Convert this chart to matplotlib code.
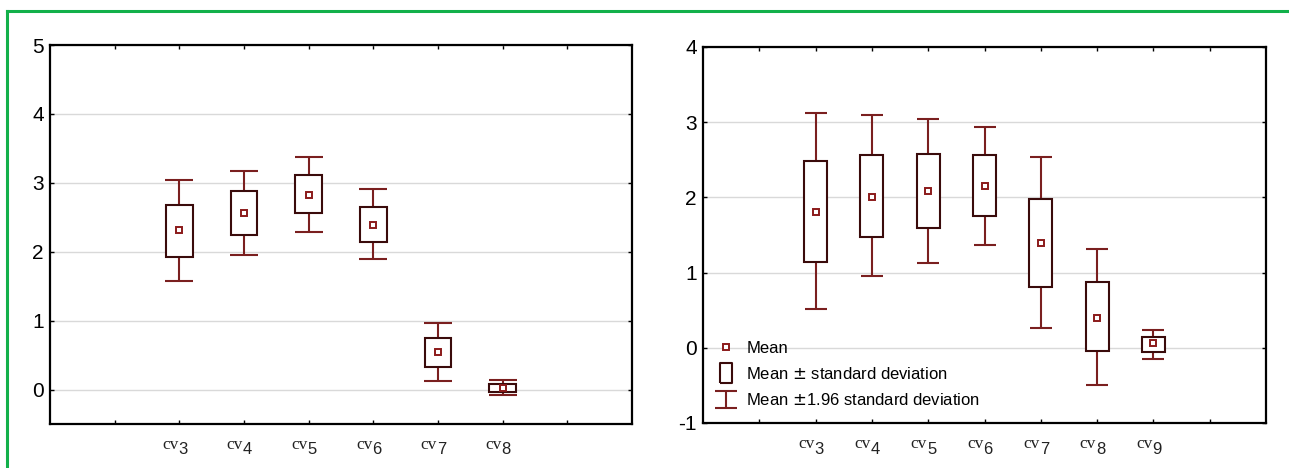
import matplotlib
matplotlib.use("Agg")
import matplotlib.pyplot as plt
import numpy as np
from matplotlib.lines import Line2D
from matplotlib.legend_handler import HandlerErrorbar

plt.rcParams['font.family'] = ['Liberation Sans', 'DejaVu Sans']
plt.rcParams['axes.unicode_minus'] = False

# left panel
cats_a = ["3", "4", "5", "6", "7", "8"]
mean_a = [2.31, 2.56, 2.82, 2.39, 0.54, 0.02]
sd_lo_a = [1.93, 2.25, 2.56, 2.14, 0.32, -0.04]
sd_hi_a = [2.68, 2.88, 3.11, 2.65, 0.75, 0.08]
ci_lo_a = [1.57, 1.95, 2.29, 1.89, 0.12, -0.08]
ci_hi_a = [3.04, 3.17, 3.37, 2.91, 0.97, 0.135]

# right panel
cats_b = ["3", "4", "5", "6", "7", "8", "9"]
mean_b = [1.81, 2.01, 2.08, 2.15, 1.39, 0.40, 0.06]
sd_lo_b = [1.14, 1.47, 1.59, 1.75, 0.81, -0.04, -0.05]
sd_hi_b = [2.48, 2.56, 2.58, 2.56, 1.98, 0.88, 0.15]
ci_lo_b = [0.51, 0.95, 1.13, 1.37, 0.26, -0.49, -0.15]
ci_hi_b = [3.12, 3.09, 3.04, 2.94, 2.54, 1.32, 0.24]

WHISK = '#7a1f1f'
BOXC = '#3a0b0b'


def panel(ax, cats, mean, sd_lo, sd_hi, ci_lo, ci_hi, ylim, yticks, cap):
    x = np.arange(len(cats)) + 2
    mean = np.array(mean)
    err = [mean - np.array(ci_lo), np.array(ci_hi) - mean]
    eb = ax.errorbar(x, mean, yerr=err, fmt='none', ecolor=WHISK, elinewidth=1.5,
                     capsize=cap, capthick=1.5, zorder=2)
    ax.bar(x, np.array(sd_hi) - np.array(sd_lo), bottom=sd_lo, width=0.41,
           facecolor='white', edgecolor=BOXC, linewidth=1.5, zorder=3)
    mk, = ax.plot(x, mean, linestyle='none', marker='s', markersize=4.5,
                  mfc='white', mec='#8b1a1a', mew=1.4, zorder=4)

    ax.set_xlim(0, len(cats) + 3)
    ax.set_ylim(*ylim)
    ax.set_xticks(np.arange(1, len(cats) + 3))
    ax.set_xticklabels([])
    ax.set_yticks(yticks)
    ax.set_yticklabels([str(t) for t in yticks])
    ax.tick_params(direction='in', length=3, width=1, top=True, right=True,
                   labelsize=15, pad=4.5)
    ax.yaxis.grid(True, color='#d9d9d9', linewidth=1)
    ax.set_axisbelow(True)
    for s in ax.spines.values():
        s.set_linewidth(1.6)

    # category labels "cv" + lowered index
    for xi, c in zip(x, cats):
        ax.annotate('cv', xy=(xi, 0), xycoords=('data', 'axes fraction'),
                    xytext=(-1, -25), textcoords='offset pixels', ha='right',
                    va='baseline', family='Liberation Serif', fontsize=12.5,
                    color='#222222')
        ax.annotate(c, xy=(xi, 0), xycoords=('data', 'axes fraction'),
                    xytext=(-1, -30.5), textcoords='offset pixels', ha='left',
                    va='baseline', fontsize=12, color='#222222')
    return eb, mk


fig = plt.figure(figsize=(12.89, 4.68), dpi=100)
ax1 = fig.add_axes([50 / 1289, 1 - 424 / 468, 582 / 1289, 379 / 468])
ax2 = fig.add_axes([703 / 1289, 1 - 423 / 468, 563 / 1289, 376 / 468])

panel(ax1, cats_a, mean_a, sd_lo_a, sd_hi_a, ci_lo_a, ci_hi_a,
      (-0.5, 5), [0, 1, 2, 3, 4, 5], 10)
eb, mk = panel(ax2, cats_b, mean_b, sd_lo_b, sd_hi_b, ci_lo_b, ci_hi_b,
               (-1, 4), [-1, 0, 1, 2, 3, 4], 8)

box_marker = [(-0.34, -0.5), (0.34, -0.5), (0.34, 0.5), (-0.34, 0.5), (-0.34, -0.5)]
box_h = Line2D([], [], linestyle='none', marker=box_marker, markersize=13.7,
               mfc='white', mec=BOXC, mew=1.5)
ax2.legend([mk, box_h, eb],
           ['Mean', 'Mean $\\pm$ standard deviation', 'Mean $\\pm$1.96 standard deviation'],
           handler_map={eb: HandlerErrorbar(yerr_size=0.52)},
           loc='upper left', bbox_to_anchor=(15 / 563, (423 - 341) / 376),
           frameon=False, fontsize=12, borderpad=0, borderaxespad=0,
           handlelength=1.0, handletextpad=0.7, labelspacing=0.6, numpoints=1)

# green frame
fig.add_artist(Line2D([7 / 1289, 7 / 1289], [0, 1 - 11 / 468], transform=fig.transFigure,
                      color='#12b04a', linewidth=2.2))
fig.add_artist(Line2D([7 / 1289, 1], [1 - 11 / 468, 1 - 11 / 468], transform=fig.transFigure,
                      color='#12b04a', linewidth=2.2))

fig.savefig('out.png', dpi=100)
